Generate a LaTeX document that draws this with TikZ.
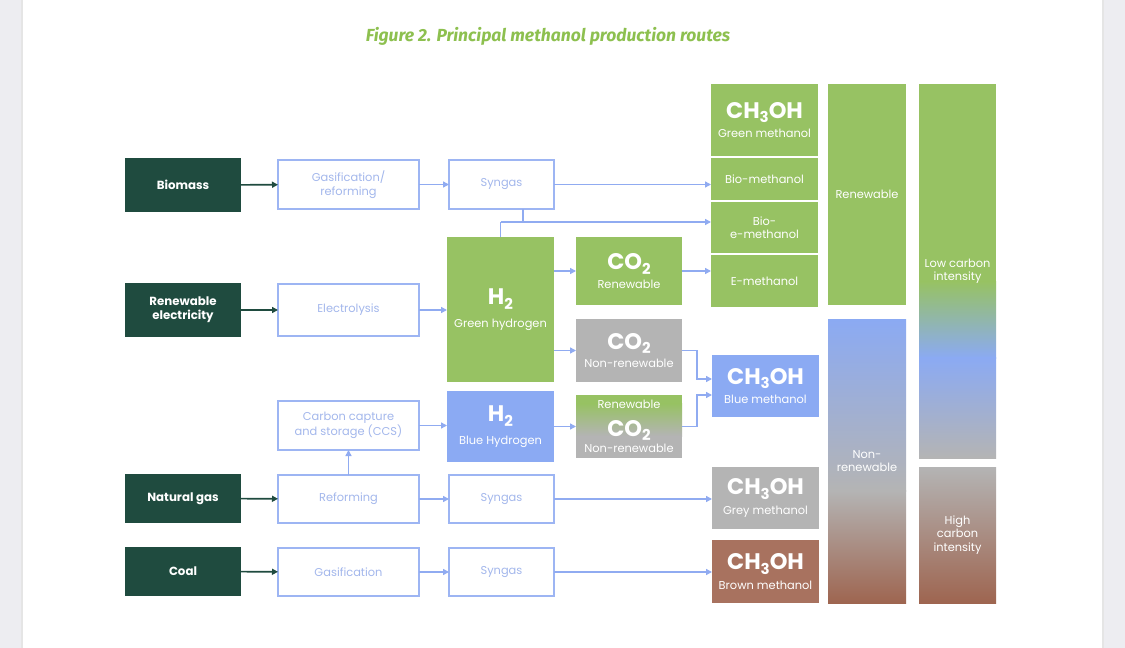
\documentclass[tikz,border=0pt]{standalone}
\usepackage{fontspec}
\setmainfont{Poppins}
\newfontfamily\titlefont{Fira Sans}
\usetikzlibrary{arrows.meta}
\definecolor{pagebg}{HTML}{EDEDF1}
\definecolor{dkg}{HTML}{1F4B3F}
\definecolor{gr}{HTML}{97C263}
\definecolor{bl}{HTML}{8BAAF3}
\definecolor{gy}{HTML}{B4B4B4}
\definecolor{br}{HTML}{A8725F}
\definecolor{brd}{HTML}{9E6550}
\definecolor{bord}{HTML}{9DB5F3}
\definecolor{ptext}{HTML}{A3B7EC}
\definecolor{arrb}{HTML}{90ABF1}
\definecolor{titleg}{HTML}{8DC04F}
\newcommand\lowsub[1]{\raisebox{-0.35ex}{\fontsize{15}{15}\selectfont #1}}
\newcommand\bigchem[1]{{\bfseries\fontsize{22.5}{23}\selectfont #1}}
\begin{document}
\begin{tikzpicture}[x=1pt,y=-1pt,
  darkbox/.style={fill=dkg,text=white,inner sep=0pt,outer sep=0pt,align=center,
    font=\bfseries\fontsize{11.8}{14}\selectfont},
  procbox/.style={draw=bord,line width=2.2pt,fill=white,text=ptext,inner sep=0pt,outer sep=0pt,
    align=center,font=\fontsize{11.4}{13.5}\selectfont},
  colbox/.style={text=white,inner sep=0pt,outer sep=0pt,align=center,font=\fontsize{11.4}{13.5}\selectfont},
  arr/.style={draw=arrb,line width=1.4pt,-{Triangle[length=6pt,width=6pt]}},
  darr/.style={draw=dkg,line width=1.6pt,-{Triangle[length=6pt,width=6pt]}},
  plain/.style={draw=arrb,line width=1.4pt}]
\useasboundingbox (0,0) rectangle (1125,648);
\fill[pagebg] (0,0) rectangle (1125,648);
\fill[black!10] (21,0) rectangle (1103.5,648);
\fill[white] (22.5,0) rectangle (1102,648);

\node[font=\titlefont\bfseries\itshape\fontsize{17.5}{20}\selectfont,text=titleg] (title) at (548,36)
  {Figure 2. Principal methanol production routes};

% left sources
\node[darkbox,minimum width=116pt,minimum height=54pt] (bio) at (183,185) {Biomass};
\node[darkbox,minimum width=116pt,minimum height=54pt] (ren) at (183,310) {Renewable\\electricity};
\node[darkbox,minimum width=116pt,minimum height=49pt] (ng) at (183,498.5) {Natural gas};
\node[darkbox,minimum width=116pt,minimum height=49pt] (coal) at (183,571.5) {Coal};

% process boxes
\node[procbox,minimum width=141pt,minimum height=49pt] (gas) at (348.5,184.5) {Gasification/\\reforming};
\node[procbox,minimum width=141pt,minimum height=52pt] (elec) at (348.5,310) {Electrolysis};
\node[procbox,minimum width=141pt,minimum height=49pt] (ccs) at (348.5,425.5) {Carbon capture\\and storage (CCS)};
\node[procbox,minimum width=141pt,minimum height=48pt] (ref) at (348.5,499) {Reforming};
\node[procbox,minimum width=141pt,minimum height=48pt] (gas2) at (348.5,572) {Gasification};
\node[procbox,minimum width=105pt,minimum height=49pt] (syn1) at (501.5,184.5) {Syngas};
\node[procbox,minimum width=105pt,minimum height=48pt] (syn2) at (501.5,499) {Syngas};
\node[procbox,minimum width=105pt,minimum height=48pt] (syn3) at (501.5,572) {Syngas};

% hydrogen
\node[colbox,fill=gr,minimum width=107pt,minimum height=145pt] (h2g) at (500.5,309.5)
  {\bigchem{H\lowsub{2}}\\[9pt]Green hydrogen};
\node[colbox,fill=bl,minimum width=107pt,minimum height=71pt] (h2b) at (500.5,426.5)
  {\bigchem{H\lowsub{2}}\\[9pt]Blue Hydrogen};

% CO2
\node[colbox,fill=gr,minimum width=106pt,minimum height=68pt] (co2r) at (629,271)
  {\bigchem{CO\lowsub{2}}\\[5pt]Renewable};
\node[colbox,fill=gy,minimum width=106pt,minimum height=63pt] (co2n) at (629,350.5)
  {\bigchem{CO\lowsub{2}}\\[5pt]Non-renewable};
\fill[gr] (576,395) rectangle (682,404);
\shade[top color=gr,bottom color=gy] (576,403.5) rectangle (682,436);
\fill[gy] (576,435.5) rectangle (682,458);
\node[colbox,minimum width=106pt,minimum height=63pt] (co2g) at (629,426.5)
  {Renewable\\[11pt]\bigchem{CO\lowsub{2}}\\[3pt]Non-renewable};

% methanol column
\node[colbox,fill=gr,minimum width=107pt,minimum height=72pt] (gm) at (764.5,120)
  {\bigchem{CH\lowsub{3}OH}\\[6pt]Green methanol};
\node[colbox,fill=gr,minimum width=107pt,minimum height=42pt] (biom) at (764.5,179) {Bio-methanol};
\node[colbox,fill=gr,minimum width=107pt,minimum height=51pt] (bioe) at (764.5,227.5) {Bio-\\e-methanol};
\node[colbox,fill=gr,minimum width=107pt,minimum height=52pt] (em) at (764.5,281) {E-methanol};
\node[colbox,fill=bl,minimum width=107pt,minimum height=62pt] (bm) at (765.5,386)
  {\bigchem{CH\lowsub{3}OH}\\[6pt]Blue methanol};
\node[colbox,fill=gy,minimum width=107pt,minimum height=62pt] (gym) at (765.5,498)
  {\bigchem{CH\lowsub{3}OH}\\[6pt]Grey methanol};
\node[colbox,fill=br,minimum width=107pt,minimum height=63pt] (brm) at (765.5,571.5)
  {\bigchem{CH\lowsub{3}OH}\\[6pt]Brown methanol};

% classification columns
\node[colbox,fill=gr,minimum width=78pt,minimum height=221pt] (renc) at (867,194.5) {Renewable};
\shade[top color=bl,bottom color=gy] (828,319) rectangle (906,491);
\shade[top color=gy,bottom color=brd] (828,490.5) rectangle (906,603);
\node[colbox,minimum width=78pt,minimum height=284pt] (nonc) at (867,461) {Non-\\renewable};

\fill[gr] (919,84) rectangle (996,282);
\shade[top color=gr,bottom color=bl] (919,281.5) rectangle (996,358);
\shade[top color=bl,bottom color=gy] (919,357.5) rectangle (996,458);
\node[colbox,minimum width=77pt,minimum height=374pt] (lowc) at (957.5,271) {Low carbon\\intensity};
\shade[top color=gy,bottom color=brd] (919,467) rectangle (996,603);
\node[colbox,minimum width=77pt,minimum height=136pt] (highc) at (957.5,535) {High\\carbon\\intensity};

% connectors
\draw[darr] (bio) -- (gas);
\draw[darr] (ren) -- (elec);
\draw[darr] (ng) -- (ref);
\draw[darr] (coal) -- (gas2);
\draw[arr] (gas) -- (syn1);
\draw[arr] (syn1.east) -- (syn1.east -| biom.west);
\coordinate (jn) at (500.5,222);
\draw[plain] ([xshift=21.5pt]syn1.south) -- ([xshift=21.5pt]syn1.south |- jn);
\draw[plain] (h2g.north) -- (jn);
\draw[arr] (jn) -- (jn -| bioe.west);
\draw[arr] (elec) -- (elec -| h2g.west);
\draw[arr] (h2g.east |- co2r.west) -- (co2r.west);
\draw[arr] (co2r.east) -- (co2r.east -| em.west);
\draw[arr] (h2g.east |- co2n.west) -- (co2n.west);
\draw[arr] (co2n.east) -- ++(15,0) |- ([yshift=7pt]bm.west);
\draw[arr] (co2g.east) -- ++(15,0) |- ([yshift=-9pt]bm.west);
\draw[arr] (h2b.east) -- (co2g.west);
\draw[arr] (ccs.east) -- (ccs.east -| h2b.west);
\draw[arr] (ref.north) -- (ccs.south);
\draw[arr] (ref) -- (syn2);
\draw[arr] (syn2.east) -- (syn2.east -| gym.west);
\draw[arr] (gas2) -- (syn3);
\draw[arr] (syn3.east) -- (syn3.east -| brm.west);
\end{tikzpicture}
\end{document}
